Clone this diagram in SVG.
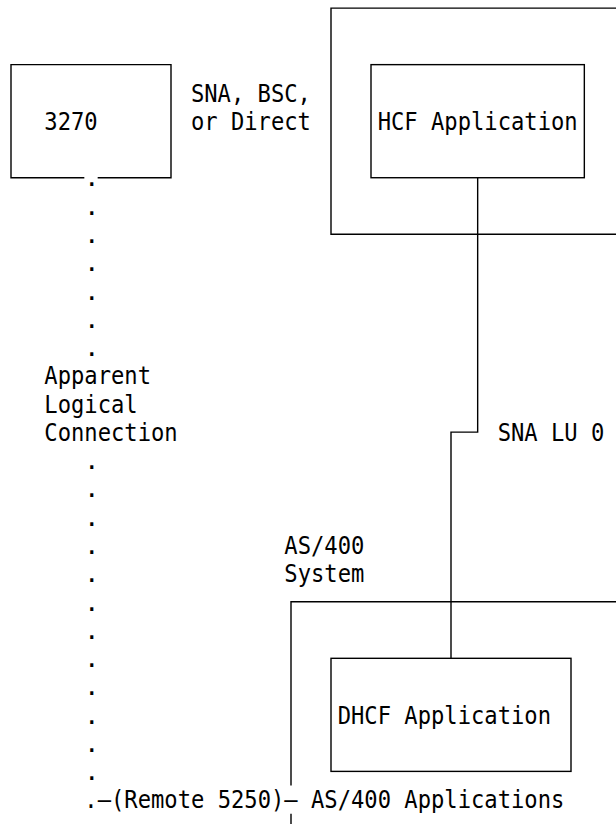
<svg xmlns="http://www.w3.org/2000/svg" width="616" height="824" viewBox="0 0 616 824">
<style>
  .ln{fill:none;stroke:#000;stroke-width:1.4}
  .t{font-family:"DejaVu Sans Mono","Liberation Mono",monospace;font-size:25px;fill:#000}
</style>
<rect width="616" height="824" fill="#fff"/>
<g id="node-3270">
  <path class="ln" d="M84.33,177.72 H11 V64.64 H171 V177.72 H97.67"/>
  <text class="t" x="44.33" y="129.9" textLength="53.33" lengthAdjust="spacingAndGlyphs">3270</text>
</g>
<g id="label-link">
  <text class="t" x="190.96" y="101.6" textLength="120" lengthAdjust="spacingAndGlyphs">SNA, BSC,</text>
  <text class="t" x="190.96" y="129.9" textLength="120" lengthAdjust="spacingAndGlyphs">or Direct</text>
</g>
<g id="node-host">
  <path class="ln" d="M620,8.1 H331 V234.26 H620"/>
</g>
<g id="node-hcf">
  <rect class="ln" x="371" y="64.64" width="213.33" height="113.08"/>
  <text class="t" x="377.67" y="129.9" textLength="200" lengthAdjust="spacingAndGlyphs">HCF Application</text>
</g>
<g id="node-as400">
  <path class="ln" d="M620,601.77 H291 V785.5 M291,813.8 V824"/>
  <text class="t" x="284.33" y="553.9" textLength="80" lengthAdjust="spacingAndGlyphs">AS/400</text>
  <text class="t" x="284.33" y="582.2" textLength="80" lengthAdjust="spacingAndGlyphs">System</text>
</g>
<g id="node-dhcf">
  <rect class="ln" x="331" y="658.31" width="240" height="113.08"/>
  <text class="t" x="337.67" y="723.6" textLength="213.33" lengthAdjust="spacingAndGlyphs">DHCF Application</text>
</g>
<g id="connectors">
  <path class="ln" d="M477.67,177.72 V432.15 H451 V658.31"/>
  <text class="t" x="497.67" y="440.9" textLength="106.67" lengthAdjust="spacingAndGlyphs">SNA LU 0</text>
  <g id="logical-connection">
    <text class="t" x="84.33" y="186.4">.</text>
    <text class="t" x="84.33" y="214.7">.</text>
    <text class="t" x="84.33" y="243.0">.</text>
    <text class="t" x="84.33" y="271.2">.</text>
    <text class="t" x="84.33" y="299.5">.</text>
    <text class="t" x="84.33" y="327.8">.</text>
    <text class="t" x="84.33" y="356.0">.</text>
    <text class="t" x="44.33" y="384.3" textLength="106.67" lengthAdjust="spacingAndGlyphs">Apparent</text>
    <text class="t" x="44.33" y="412.6" textLength="93.33" lengthAdjust="spacingAndGlyphs">Logical</text>
    <text class="t" x="44.33" y="440.9" textLength="133.33" lengthAdjust="spacingAndGlyphs">Connection</text>
    <text class="t" x="84.33" y="469.1">.</text>
    <text class="t" x="84.33" y="497.4">.</text>
    <text class="t" x="84.33" y="525.7">.</text>
    <text class="t" x="84.33" y="553.9">.</text>
    <text class="t" x="84.33" y="582.2">.</text>
    <text class="t" x="84.33" y="610.5">.</text>
    <text class="t" x="84.33" y="638.7">.</text>
    <text class="t" x="84.33" y="667.0">.</text>
    <text class="t" x="84.33" y="695.3">.</text>
    <text class="t" x="84.33" y="723.6">.</text>
    <text class="t" x="84.33" y="751.8">.</text>
    <text class="t" x="84.33" y="780.1">.</text>
    <text class="t" x="84.33" y="808.4" textLength="480" lengthAdjust="spacingAndGlyphs">.—(Remote 5250)— AS/400 Applications</text>
  </g>
</g>
</svg>
